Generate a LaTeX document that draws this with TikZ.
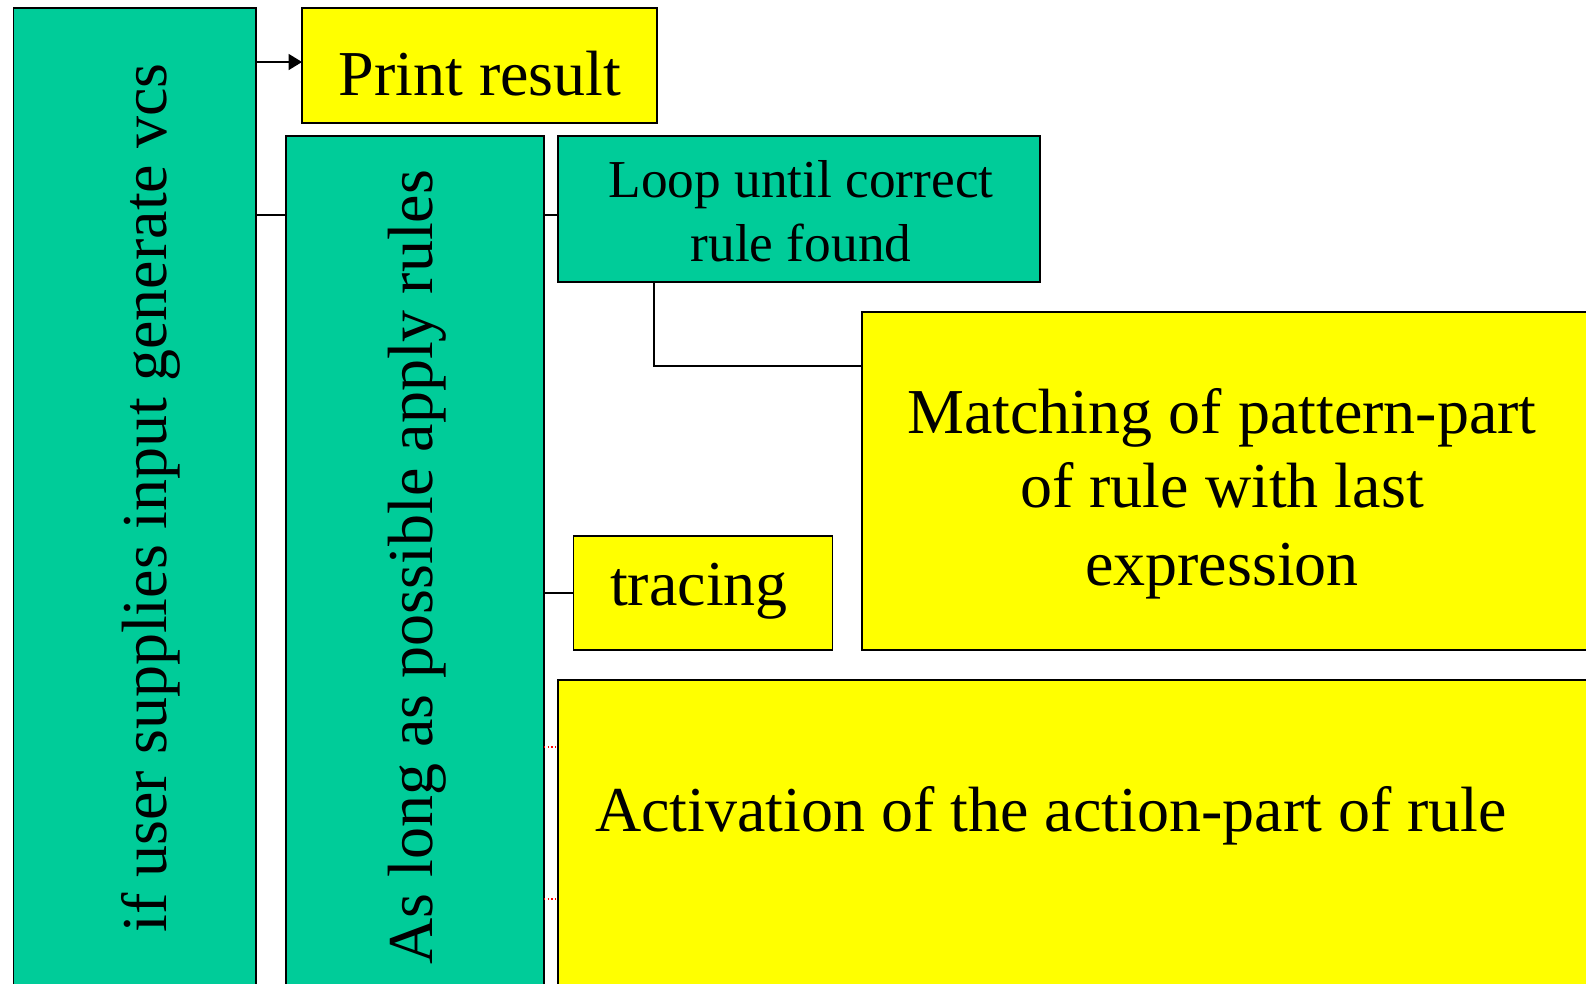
\documentclass[tikz,border=0pt]{standalone}
\usepackage{fontspec}
\setmainfont{Liberation Serif}
\usetikzlibrary{arrows.meta,fit}
\definecolor{boxgreen}{RGB}{0,204,153}
\definecolor{boxyellow}{RGB}{255,255,0}
\begin{document}
\begin{tikzpicture}[x=0.75pt,y=-0.75pt,
  box/.style={draw=black, line width=1.3pt, inner sep=0pt, outer sep=0pt},
  gbox/.style={box, fill=boxgreen},
  ybox/.style={box, fill=boxyellow},
  bigtxt/.style={inner sep=0pt, font=\fontsize{48}{57}\selectfont},
  smalltxt/.style={inner sep=0pt, font=\fontsize{40}{48}\selectfont},
  conn/.style={draw=black, line width=1pt},
  redconn/.style={draw=red, dotted, line width=0.8pt}]
\useasboundingbox (0,0) rectangle (1586,983);
\clip (0,0) rectangle (1586,983);
% boxes
\node[gbox, fit={(13.5,8) (256,1010)}] (lb) {};
\node[ybox, fit={(302,8) (657,123)}] (pr) {};
\node[gbox, fit={(286,136) (544,1010)}] (ab) {};
\node[gbox, fit={(558,136) (1040,282)}] (loop) {};
\node[ybox, fit={(862,312) (1620,650)}] (match) {};
\node[ybox, fit={(573.5,536) (832.5,650)}] (tr) {};
\node[ybox, fit={(558,680) (1620,1010)}] (act) {};
% texts
\node[bigtxt, rotate=90] (lbt) at (151,498) {if user supplies input generate vcs};
\node[bigtxt, rotate=90] (abt) at (417,567) {As long as possible apply rules};
\node[bigtxt, anchor=base] (prt) at (480,95) {Print result};
\node[smalltxt, anchor=base] (loopt1) at (801,197) {Loop until correct};
\node[smalltxt, anchor=base] (loopt2) at (801,261) {rule found};
\node[bigtxt, anchor=base] (mt1) at (1222,433) {Matching of pattern-part};
\node[bigtxt, anchor=base] (mt2) at (1222,507) {of rule with last};
\node[bigtxt, anchor=base] (mt3) at (1222,585) {expression};
\node[bigtxt, anchor=base] (trt) at (699,605) {tracing};
\node[bigtxt, anchor=base] (actt) at (1051,831) {Activation of the action-part of rule};
% connectors
\draw[conn, -{Triangle[length=10pt,width=12pt]}] (lb.east |- 0,62) -- (pr.west |- 0,62);
\draw[conn] (lb.east |- 0,215) -- (ab.west |- 0,215);
\draw[conn] (ab.east |- 0,215) -- (loop.west |- 0,215);
\draw[conn] (loop.south -| 654,0) |- (match.west |- 0,366);
\draw[conn] (ab.east |- tr.west) -- (tr.west);
\draw[redconn] (ab.east |- 0,747) -- (act.west |- 0,747);
\draw[redconn] (ab.east |- 0,899) -- (act.west |- 0,899);
\end{tikzpicture}
\end{document}
